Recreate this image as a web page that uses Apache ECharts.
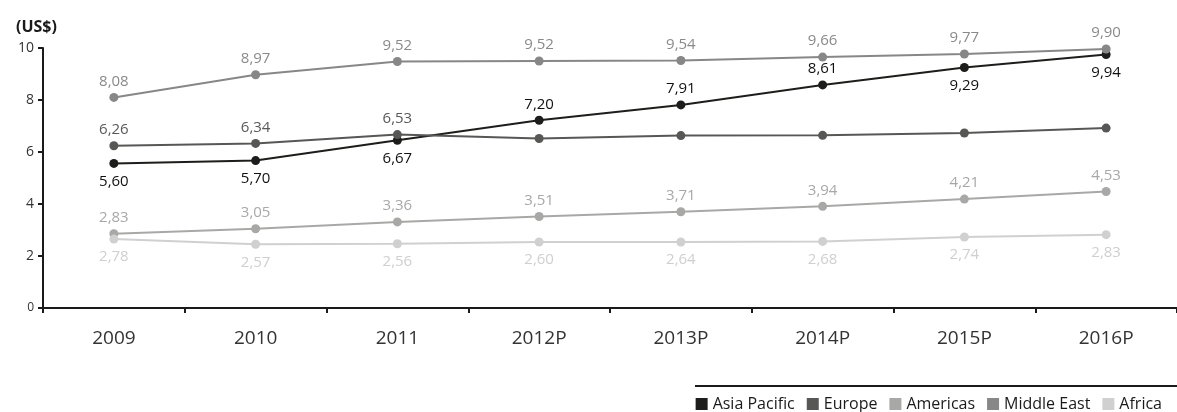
<!DOCTYPE html>
<html>
<head>
<meta charset="utf-8">
<script src="https://cdn.jsdelivr.net/npm/echarts@6/dist/echarts.min.js"></script>
<style>
  html, body { margin: 0; padding: 0; background: #fff; }
  #chart { width: 1177px; height: 412px; }
</style>
</head>
<body>
<div id="chart"></div>
<script>
const years = ['2009', '2010', '2011', '2012P', '2013P', '2014P', '2015P', '2016P'];

// plotted values (read from point positions)
const asiaPacific = [5.56, 5.67, 6.45, 7.22, 7.81, 8.58, 9.25, 9.75];
const europe = [6.24, 6.33, 6.67, 6.52, 6.63, 6.64, 6.73, 6.92];
const americas = [2.86, 3.05, 3.31, 3.52, 3.70, 3.91, 4.19, 4.48];
const middleEast = [8.10, 8.97, 9.48, 9.50, 9.52, 9.65, 9.77, 9.96];
const africa = [2.65, 2.45, 2.47, 2.54, 2.54, 2.56, 2.73, 2.82];

// printed data labels
const asiaPacificLabels = [5.60, 5.70, 6.67, 7.20, 7.91, 8.61, 9.29, 9.94];
const europeLabels = [6.26, 6.34, 6.53, null, null, null, null, null];
const americasLabels = [2.83, 3.05, 3.36, 3.51, 3.71, 3.94, 4.21, 4.53];
const middleEastLabels = [8.08, 8.97, 9.52, 9.52, 9.54, 9.66, 9.77, 9.90];
const africaLabels = [2.78, 2.57, 2.56, 2.60, 2.64, 2.68, 2.74, 2.83];

const yTicks = { min: 0, max: 10, interval: 2 };

const FONT = '"Open Sans", "Noto Sans", sans-serif';
const fmt = (v) => (v == null ? '' : v.toFixed(2).replace('.', ','));

// Asia Pacific labels sit below except 2012P-2014P
const asiaAbove = (i) => i >= 3 && i <= 5;

function makeSeries(name, values, labels, color, labelColor, placeAbove) {
  return {
    name,
    type: 'line',
    symbol: 'circle',
    symbolSize: 9,
    lineStyle: { width: 2, color },
    itemStyle: { color },
    data: values.map((v, i) => {
      const above = placeAbove(i);
      return {
        value: v,
        label: {
          show: labels[i] != null,
          position: above ? 'top' : 'bottom',
          distance: above ? 4 : 6,
          formatter: () => fmt(labels[i])
        }
      };
    }),
    label: {
      color: labelColor,
      fontFamily: FONT,
      fontSize: 15
    },
    emphasis: { disabled: true }
  };
}

const chart = echarts.init(document.getElementById('chart'), null, { renderer: 'canvas' });

chart.setOption({
  animation: false,
  textStyle: { fontFamily: FONT },
  title: {
    text: '(US$)',
    left: 11,
    top: 14,
    textStyle: { fontFamily: FONT, fontSize: 16, fontWeight: 'bold', color: '#1a1a1a' }
  },
  grid: { left: 43, top: 48, width: 1144, bottom: 104 },
  legend: {
    right: 10,
    top: 391,
    icon: 'rect',
    itemWidth: 12,
    itemHeight: 12,
    itemGap: 12,
    data: ['Asia Pacific', 'Europe', 'Americas', 'Middle East', 'Africa'],
    textStyle: { fontFamily: FONT, fontSize: 16, color: '#1a1a1a' }
  },
  graphic: [{
    type: 'line',
    shape: { x1: 695, y1: 386, x2: 1177, y2: 386 },
    style: { stroke: '#1a1a1a', lineWidth: 2 }
  }],
  xAxis: {
    type: 'category',
    data: years,
    boundaryGap: true,
    axisLine: { lineStyle: { color: '#1a1a1a', width: 2 } },
    axisTick: { show: true, length: 5, lineStyle: { color: '#1a1a1a', width: 2 } },
    axisLabel: { color: '#333', fontSize: 19, margin: 21, fontFamily: FONT },
    splitLine: { show: false }
  },
  yAxis: {
    type: 'value',
    min: yTicks.min,
    max: yTicks.max,
    interval: yTicks.interval,
    axisLine: { show: true, lineStyle: { color: '#1a1a1a', width: 2 } },
    axisTick: { show: true, length: 5, lineStyle: { color: '#1a1a1a', width: 2 } },
    axisLabel: {
      color: '#333',
      fontSize: 14,
      margin: 9,
      fontFamily: FONT,
      formatter: (v) => (v === 0 ? '{s|0}' : String(v)),
      rich: { s: { fontSize: 12, color: '#333', fontFamily: FONT } }
    },
    splitLine: { show: false }
  },
  series: [
    makeSeries('Asia Pacific', asiaPacific, asiaPacificLabels, '#1d1d1b', '#111', asiaAbove),
    makeSeries('Europe', europe, europeLabels, '#575756', '#595959', () => true),
    makeSeries('Americas', americas, americasLabels, '#a8a8a7', '#a8a8a8', () => true),
    makeSeries('Middle East', middleEast, middleEastLabels, '#878787', '#8a8a8a', () => true),
    makeSeries('Africa', africa, africaLabels, '#d0d0d0', '#cfcfcf', () => false)
  ]
});
</script>
</body>
</html>
